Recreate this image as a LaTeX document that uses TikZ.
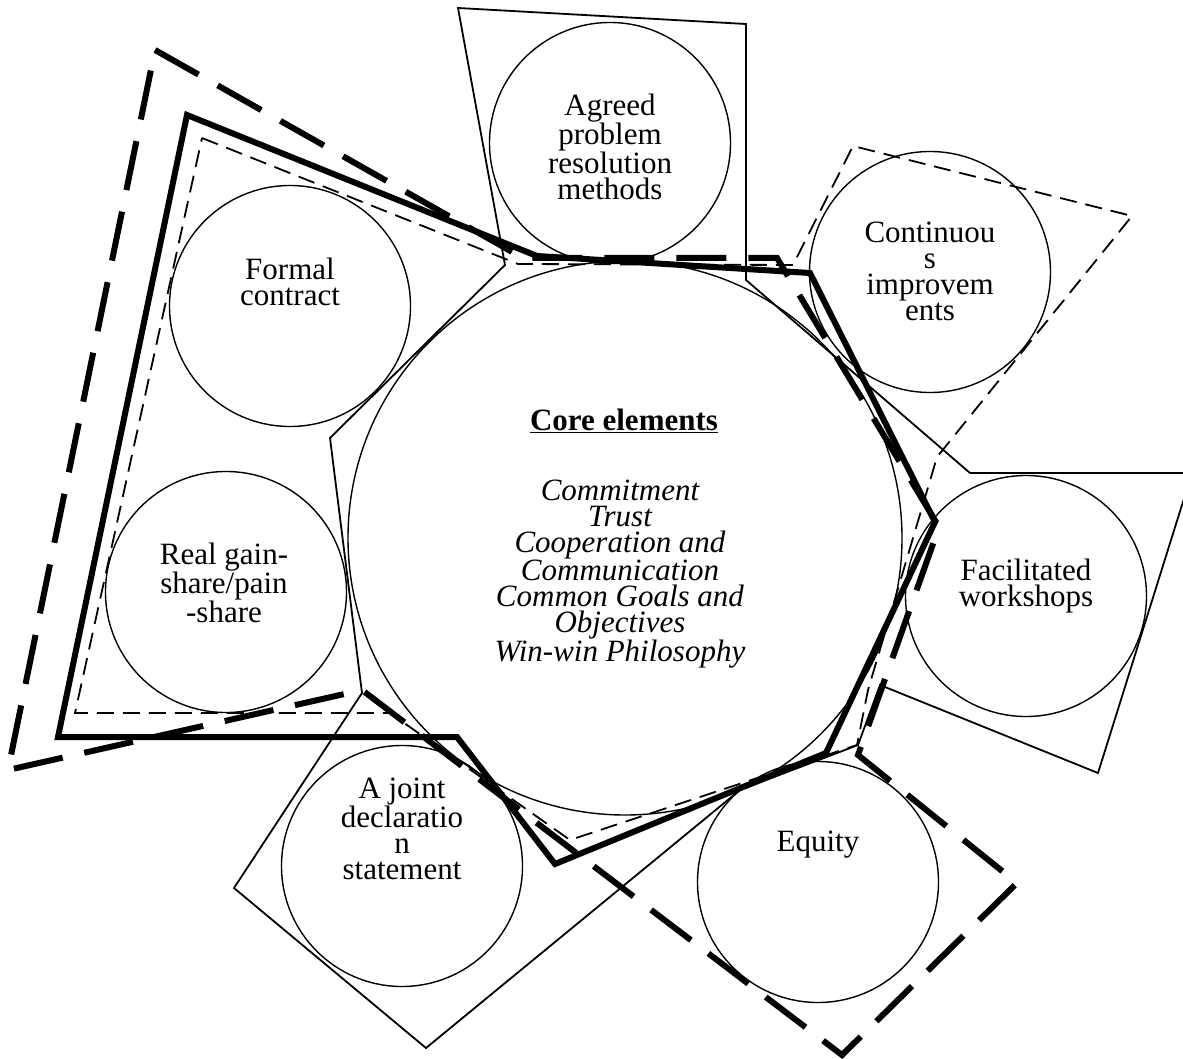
\documentclass[tikz,border=0pt]{standalone}
\usepackage{fontspec}
\setmainfont{Liberation Serif}
\begin{document}
\begin{tikzpicture}[x=1pt,y=-1pt,
  elem/.style={draw, circle, line width=1.4pt, minimum size=241pt, inner sep=0pt},
  corecircle/.style={draw, circle, line width=1.4pt, minimum size=554pt, inner sep=0pt},
  lbl/.style={align=center, inner sep=0pt, font=\fontsize{31}{26}\selectfont},
  thinline/.style={line width=1.8pt, line join=miter},
  thindash/.style={line width=1.8pt, line join=miter, dash pattern=on 17pt off 9pt},
  thickline/.style={line width=6pt, line join=miter},
  thickdash/.style={line width=6pt, line join=miter, dash pattern=on 50pt off 22pt}]
\useasboundingbox (0,0) rectangle (1183,1059);
\clip (0,0) rectangle (1183,1059);

% circles
\node[corecircle] (core) at (625,538) {};
\node[elem] (agreed) at (610,143) {};
\node[elem] (contimp) at (930,272) {};
\node[elem] (facil) at (1026,596) {};
\node[elem] (equity) at (818,882) {};
\node[elem] (joint) at (402,866) {};
\node[elem] (realgain) at (226,592) {};
\node[elem] (formal) at (290,306) {};

% labels
\node[lbl] (agreedtxt) at (610,147) {Agreed\\problem\\resolution\\methods};
\node[lbl] (contimptxt) at (930,271) {Continuou\\s\\improvem\\ents};
\node[lbl] (faciltxt) at (1026,586) {Facilitated\\workshops};
\node[lbl] (equitytxt) at (818,845) {Equity};
\node[lbl] (jointtxt) at (402,829) {A joint\\declaratio\\n\\statement};
\node[lbl] (realgaintxt) at (224,583) {Real gain-\\share/pain\\-share};
\node[lbl] (formaltxt) at (290,282) {Formal\\contract};
\node[lbl] (coretitle) at (624,421) {\textbf{\underline{Core elements}}};
\node[lbl, font=\fontsize{31}{25.8}\selectfont\itshape] (corelist) at (620,574)
  {Commitment\\Trust\\Cooperation and\\Communication\\Common Goals and\\Objectives\\Win-win Philosophy};

% thin solid polygon (Agreed, Facilitated, A joint)
\draw[thinline] (458,8) -- (746,24) -- (746,280) -- (970,473) -- (1192,473)
  -- (1098,773) -- (880,685) -- (858,745) -- (740,790) -- (426,1048)
  -- (234,888) -- (362,693) -- (330,438) -- (505,265) -- cycle;

% thin dashed polygon (Formal, Real gain, Continuous)
\draw[thindash] (202,138) -- (518,264) -- (793,265) -- (853,146) -- (1132,216)
  -- (937,457) -- (868,690) -- (857,745) -- (570,840) -- (390,713) -- (75,713) -- cycle;

% thick solid polygon (Formal, Real gain)
\draw[thickline] (187,115) -- (537,256) -- (810,273) -- (935,522) -- (826,753)
  -- (555,864) -- (457,737) -- (58,737) -- cycle;

% thick dashed polygon (Formal, Real gain, Equity)
\draw[thickdash] (155,50) -- (523,258) -- (777,258) -- (939,527) -- (858,755)
  -- (1017,883) -- (842,1055) -- (362,690) -- (8,770) -- cycle;
\end{tikzpicture}
\end{document}
